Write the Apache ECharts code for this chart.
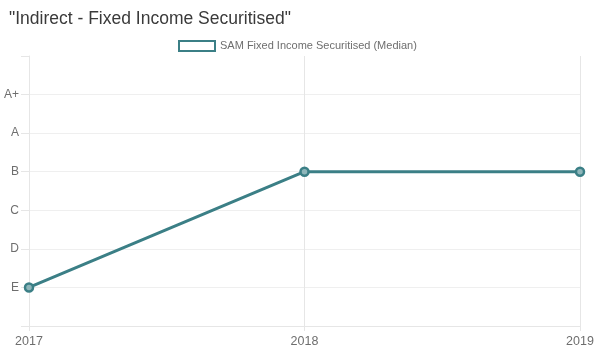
<!DOCTYPE html>
<html lang="en">
<head>
    <meta charset="UTF-8">
    <title>Indirect - Fixed Income Securitised</title>
    <script src="https://cdn.jsdelivr.net/npm/echarts@6/dist/echarts.min.js"></script>
    <style>
        html, body { margin: 0; padding: 0; background: #fff; }
    </style>
</head>
<body>
    <div id="main" style="width: 602px;height:350px;"></div>
    <script type="text/javascript">
    var years = ['2017', '2018', '2019'];
    // rating scale from bottom to top, blank at both ends
    var ratingLabels = ['', 'E', 'D', 'C', 'B', 'A', 'A+', ''];
    var medianRatings = ['E', 'B', 'B'];

    var lineColor = '#3b7f86';
    var gridColor = '#e6e6e6';

    // one colour per horizontal grid line, the top one hidden
    var splitColors = ratingLabels.map(function (l, i) {
        return i === ratingLabels.length - 1 ? 'rgba(0,0,0,0)' : '#efefef';
    });

    var myChart = echarts.init(document.getElementById('main'));

    var option = {
        animation: false,
        title: {
            text: '"Indirect - Fixed Income Securitised"',
            left: 4,
            top: 5,
            textStyle: {
                fontFamily: 'Liberation Sans, Arial, sans-serif',
                fontSize: 17.5,
                fontWeight: 'normal',
                color: '#3a3a3a'
            }
        },
        legend: {
            data: ['SAM Fixed Income Securitised (Median)'],
            top: 35,
            left: 173,
            itemWidth: 36,
            itemHeight: 10,
            itemGap: 6,
            icon: 'rect',
            itemStyle: {
                color: '#fff',
                borderColor: lineColor,
                borderWidth: 2
            },
            textStyle: {
                fontFamily: 'Liberation Sans, Arial, sans-serif',
                fontSize: 11,
                color: '#6e6e6e'
            }
        },
        grid: {
            left: 29,
            right: 22,
            top: 56,
            bottom: 24,
            containLabel: false
        },
        xAxis: {
            type: 'category',
            boundaryGap: false,
            data: years,
            axisLine: { show: true, lineStyle: { color: gridColor } },
            axisTick: { show: true, length: 5, lineStyle: { color: gridColor } },
            splitLine: { show: true, lineStyle: { color: gridColor } },
            axisLabel: {
                fontFamily: 'Liberation Sans, Arial, sans-serif',
                fontSize: 12.5,
                color: '#6e6e6e',
                margin: 9,
                showMaxLabel: true,
                showMinLabel: true
            }
        },
        yAxis: {
            type: 'value',
            min: 0,
            max: ratingLabels.length - 1,
            interval: 1,
            axisLine: { show: true, lineStyle: { color: gridColor } },
            axisTick: { show: true, length: 8, lineStyle: { color: gridColor } },
            splitLine: { show: true, lineStyle: { color: splitColors } },
            axisLabel: {
                fontFamily: 'Liberation Sans, Arial, sans-serif',
                fontSize: 12,
                color: '#6e6e6e',
                margin: 10,
                formatter: function (val) {
                    return ratingLabels[val] || '';
                }
            }
        },
        series: [{
            name: 'SAM Fixed Income Securitised (Median)',
            type: 'line',
            data: medianRatings.map(function (r) { return ratingLabels.indexOf(r); }),
            symbol: 'circle',
            symbolSize: 8,
            itemStyle: {
                color: '#8fb6ba',
                borderColor: lineColor,
                borderWidth: 2.5
            },
            lineStyle: {
                color: lineColor,
                width: 3
            }
        }]
    };

    myChart.setOption(option);
    </script>
</body>
</html>
